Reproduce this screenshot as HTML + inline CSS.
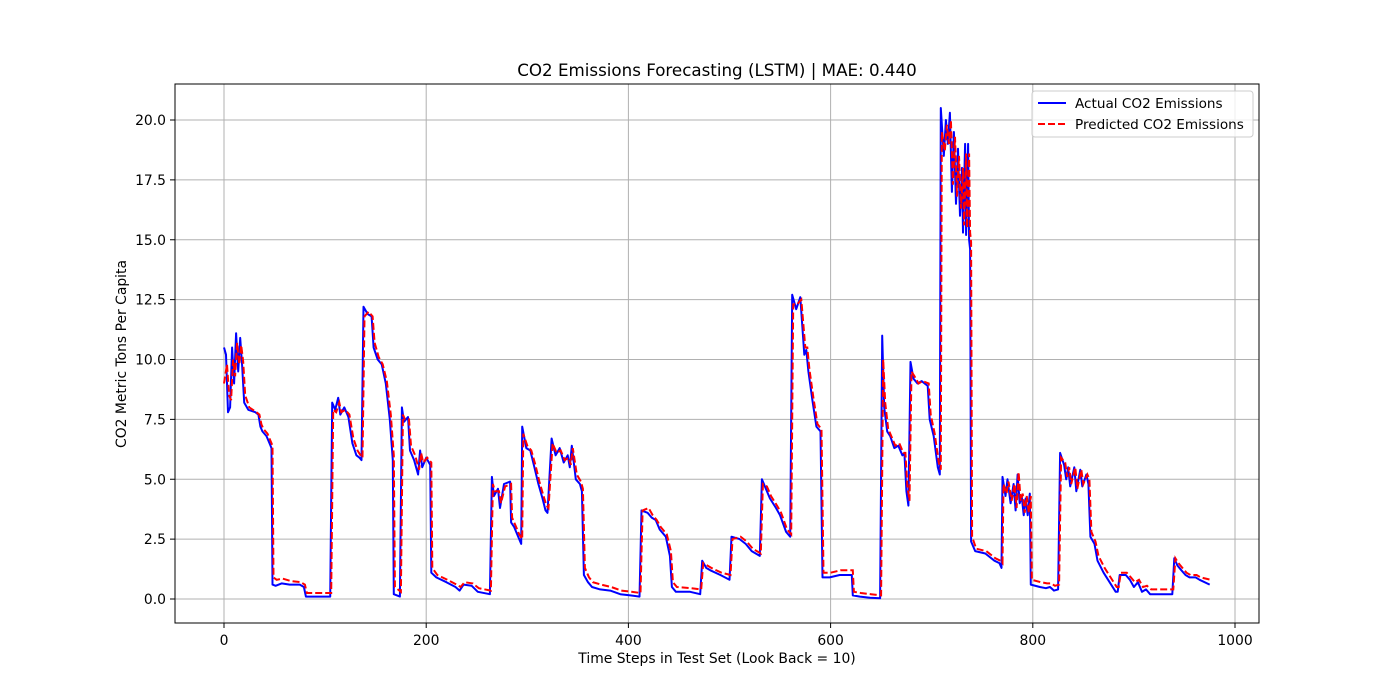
<!DOCTYPE html>
<html><head><meta charset="utf-8"><style>
body{margin:0;background:#fff;}
svg{display:block;font-family:"DejaVu Sans","Liberation Sans",sans-serif;}
</style></head><body>
<svg id="chart" width="1400" height="700">
<text x="717" y="76" text-anchor="middle" font-size="16.7">CO2 Emissions Forecasting (LSTM) | MAE: 0.440</text>
<text x="717" y="663" text-anchor="middle" font-size="13.9">Time Steps in Test Set (Look Back = 10)</text>
<text transform="translate(126,354) rotate(-90)" text-anchor="middle" font-size="13.9">CO2 Metric Tons Per Capita</text>
<g id="grid"></g><g id="ticks"></g>
<clipPath id="clip"><rect x="175" y="84" width="1084" height="539"/></clipPath>
<g id="series" clip-path="url(#clip)"></g>
<rect x="175" y="84" width="1084" height="539" fill="none" stroke="#000" stroke-width="1"/>
<g>
<rect x="1032" y="91" width="221" height="46" rx="3" fill="#fff" fill-opacity="0.8" stroke="#ccc"/>
<line x1="1038" y1="103" x2="1066" y2="103" stroke="#0000ff" stroke-width="2"/>
<text x="1075" y="108" font-size="13.6">Actual CO2 Emissions</text>
<line x1="1038" y1="124" x2="1066" y2="124" stroke="#ff0000" stroke-width="2" stroke-dasharray="7,3"/>
<text x="1075" y="129" font-size="13.6">Predicted CO2 Emissions</text>
</g>
</svg>
<script>
const xTicks=[0,200,400,600,800,1000];
const yTicks=[0,2.5,5,7.5,10,12.5,15,17.5,20];
const actualSteps=[0,2,4,6,8,10,12,14,16,18,20,24,31,34,36,38,42,45,47,48,51,57,65,75,79,81,105,107,110,113,115,119,123,127,131,134,136,138,142,146,148,152,156,160,164,167,168,174,176,178,182,184,188,192,194,196,200,204,205,210,220,229,233,237,245,251,263,265,267,271,273,277,283,284,287,291,294,295,299,303,307,311,315,318,320,324,328,332,336,340,342,344,348,352,354,356,360,364,372,382,392,402,411,413,419,423,427,431,437,441,443,447,461,471,473,477,481,491,500,502,510,516,522,530,532,536,540,546,550,556,560,562,566,570,574,576,578,582,586,590,592,599,609,621,622,629,639,649,651,653,656,659,663,667,671,673,675,677,679,682,686,690,696,698,702,706,708,709,712,714,716,718,720,722,724,726,728,730,731,733,734,736,737,738,739,743,753,762,767,769,770,773,775,778,781,783,785,787,789,791,793,795,797,798,807,813,817,821,825,827,831,833,835,837,841,843,847,849,853,855,857,861,864,870,876,882,884,886,892,896,900,904,908,912,916,926,938,940,943,947,951,955,961,965,975];
const actualValues=[10.5,10.2,7.8,8.0,10.5,9.0,11.1,9.5,10.9,9.7,8.2,7.9,7.8,7.7,7.2,7.0,6.8,6.5,6.3,0.6,0.55,0.65,0.6,0.6,0.5,0.1,0.1,8.2,7.9,8.4,7.7,8.0,7.6,6.5,6.0,5.9,5.8,12.2,11.9,11.8,10.5,10.0,9.8,9.0,7.5,5.8,0.2,0.1,8.0,7.4,7.6,6.2,5.8,5.2,6.2,5.5,5.9,5.6,1.1,0.9,0.7,0.5,0.35,0.6,0.55,0.3,0.2,5.1,4.3,4.6,3.8,4.8,4.9,3.2,3.0,2.6,2.3,7.2,6.3,6.2,5.5,4.8,4.2,3.7,3.6,6.7,6.0,6.3,5.7,6.0,5.5,6.4,5.0,4.8,4.5,1.0,0.7,0.5,0.4,0.35,0.2,0.15,0.1,3.7,3.6,3.4,3.3,2.9,2.6,1.8,0.5,0.3,0.3,0.2,1.6,1.3,1.2,1.0,0.8,2.6,2.5,2.3,2.0,1.8,5.0,4.6,4.2,3.8,3.5,2.8,2.6,12.7,12.1,12.6,10.2,10.4,9.5,8.3,7.2,7.0,0.9,0.9,1.0,1.0,0.15,0.1,0.05,0.03,11.0,8.0,7.0,6.8,6.3,6.4,6.0,6.1,4.5,3.9,9.9,9.2,9.0,9.1,8.9,7.5,6.8,5.5,5.2,20.5,18.5,20.0,19.0,20.3,17.0,19.5,16.5,18.8,16.0,18.0,15.3,19.0,15.2,19.0,15.0,14.6,2.4,2.0,1.9,1.6,1.5,1.3,5.1,4.3,5.0,4.0,4.8,3.7,5.2,4.0,4.3,3.5,4.2,3.5,4.4,0.6,0.5,0.45,0.5,0.35,0.4,6.1,5.6,5.0,5.5,4.7,5.5,4.5,5.4,4.7,5.2,4.8,2.6,2.3,1.6,1.1,0.7,0.3,0.3,1.0,1.0,0.8,0.5,0.7,0.3,0.4,0.2,0.2,0.2,1.7,1.4,1.2,1.0,0.9,0.9,0.8,0.6];
const predSteps=[0,3,5,7,9,11,13,15,17,19,21,25,32,35,37,39,43,46,48,49,52,58,66,76,80,82,106,108,111,114,116,120,124,128,132,135,137,139,143,147,149,153,157,161,165,168,169,175,177,179,183,185,189,193,195,197,201,205,206,211,221,230,234,238,246,252,264,266,268,272,274,278,284,285,288,292,295,296,300,304,308,312,316,319,321,325,329,333,337,341,343,345,349,353,355,357,361,365,373,383,393,403,412,414,420,424,428,432,438,442,444,448,462,472,474,478,482,492,501,503,511,517,523,531,533,537,541,547,551,557,561,563,567,571,575,577,579,583,587,591,593,600,610,622,623,630,640,650,652,654,657,660,664,668,672,674,676,678,680,683,687,691,697,699,703,707,709,710,713,715,717,719,721,723,725,727,729,731,732,734,735,737,738,739,740,744,754,763,768,770,771,774,776,779,782,784,786,788,790,792,794,796,798,799,808,814,818,822,826,828,832,834,836,838,842,844,848,850,854,856,858,862,865,871,877,883,885,887,893,897,901,905,909,913,917,927,939,941,944,948,952,956,962,966,976];
const predValues=[9.0,9.8,8.5,8.3,10.0,9.3,10.7,9.8,10.6,9.9,8.5,8.0,7.8,7.7,7.3,7.1,6.9,6.6,6.4,0.9,0.8,0.85,0.75,0.7,0.6,0.25,0.25,7.9,7.8,8.2,7.8,7.9,7.7,6.7,6.2,6.0,5.9,11.8,12.0,11.8,10.7,10.1,9.8,9.1,7.7,6.0,0.5,0.3,7.7,7.5,7.5,6.4,6.0,5.4,6.1,5.7,5.9,5.7,1.3,1.0,0.8,0.6,0.5,0.7,0.65,0.45,0.35,4.8,4.5,4.5,4.0,4.7,4.8,3.4,3.1,2.7,2.5,6.9,6.4,6.2,5.6,4.9,4.3,3.9,3.8,6.5,6.1,6.2,5.8,5.9,5.6,6.3,5.2,4.9,4.6,1.3,0.9,0.7,0.6,0.5,0.35,0.3,0.25,3.7,3.8,3.5,3.3,3.0,2.7,2.0,0.7,0.5,0.45,0.4,1.5,1.4,1.3,1.1,1.0,2.5,2.6,2.4,2.1,1.9,4.8,4.7,4.3,3.9,3.6,2.9,2.7,12.3,12.3,12.5,10.5,10.5,9.6,8.4,7.3,7.1,1.1,1.1,1.2,1.2,0.3,0.25,0.2,0.15,10.0,8.2,7.1,6.8,6.4,6.5,6.1,6.1,4.7,4.1,9.5,9.3,9.0,9.1,9.0,7.7,6.9,5.7,5.4,19.5,18.7,19.8,19.0,20.0,17.3,19.3,16.8,18.5,16.3,18.0,15.6,18.6,15.5,18.6,15.3,14.9,2.6,2.1,2.0,1.7,1.6,1.5,4.8,4.4,4.9,4.1,4.8,3.8,5.3,4.1,4.4,3.6,4.3,3.6,4.3,0.8,0.7,0.65,0.65,0.55,0.6,5.9,5.7,5.1,5.5,4.8,5.5,4.6,5.4,4.8,5.2,5.0,2.8,2.4,1.8,1.3,0.9,0.5,0.5,1.1,1.1,0.9,0.7,0.8,0.5,0.55,0.4,0.4,0.4,1.7,1.5,1.3,1.1,1.0,1.0,0.9,0.8];

const X=v=>224+v*1.011, Y=v=>599-v*23.95;
const NS='http://www.w3.org/2000/svg';
const grid=document.getElementById('grid'), ticks=document.getElementById('ticks'), series=document.getElementById('series');
function mk(tag,attrs,parent){const e=document.createElementNS(NS,tag);for(const k in attrs)e.setAttribute(k,attrs[k]);parent.appendChild(e);return e;}
xTicks.forEach(t=>{
  const g=mk('line',{x1:X(t),x2:X(t),y1:84,y2:623,stroke:'#b0b0b0','stroke-width':1},grid);
  
  
  const tk=mk('line',{x1:X(t),x2:X(t),y1:623,y2:628,stroke:'#000'},ticks);
  
  
  const tx=mk('text',{x:X(t),y:645,'text-anchor':'middle','font-size':13.9},ticks);
  tx.textContent=t;
  
  
});
yTicks.forEach(t=>{
  const g=mk('line',{x1:175,x2:1259,y1:Y(t),y2:Y(t),stroke:'#b0b0b0','stroke-width':1},grid);
  
  
  const tk=mk('line',{x1:170,x2:175,y1:Y(t),y2:Y(t),stroke:'#000'},ticks);
  
  
  const tx=mk('text',{x:166,y:Y(t)+5,'text-anchor':'end','font-size':13.9},ticks);
  tx.textContent=t.toFixed(1);
  
  
});
function pts(s,v){return s.map((x,i)=>X(x).toFixed(1)+','+Y(v[i]).toFixed(1)).join(' ');}
const a=mk('polyline',{points:pts(actualSteps,actualValues),fill:'none',stroke:'#0000ff','stroke-width':2,'stroke-linejoin':'round'},series);


const p=mk('polyline',{points:pts(predSteps,predValues),fill:'none',stroke:'#ff0000','stroke-width':2,'stroke-dasharray':'7,3'},series);


</script>
</body></html>
